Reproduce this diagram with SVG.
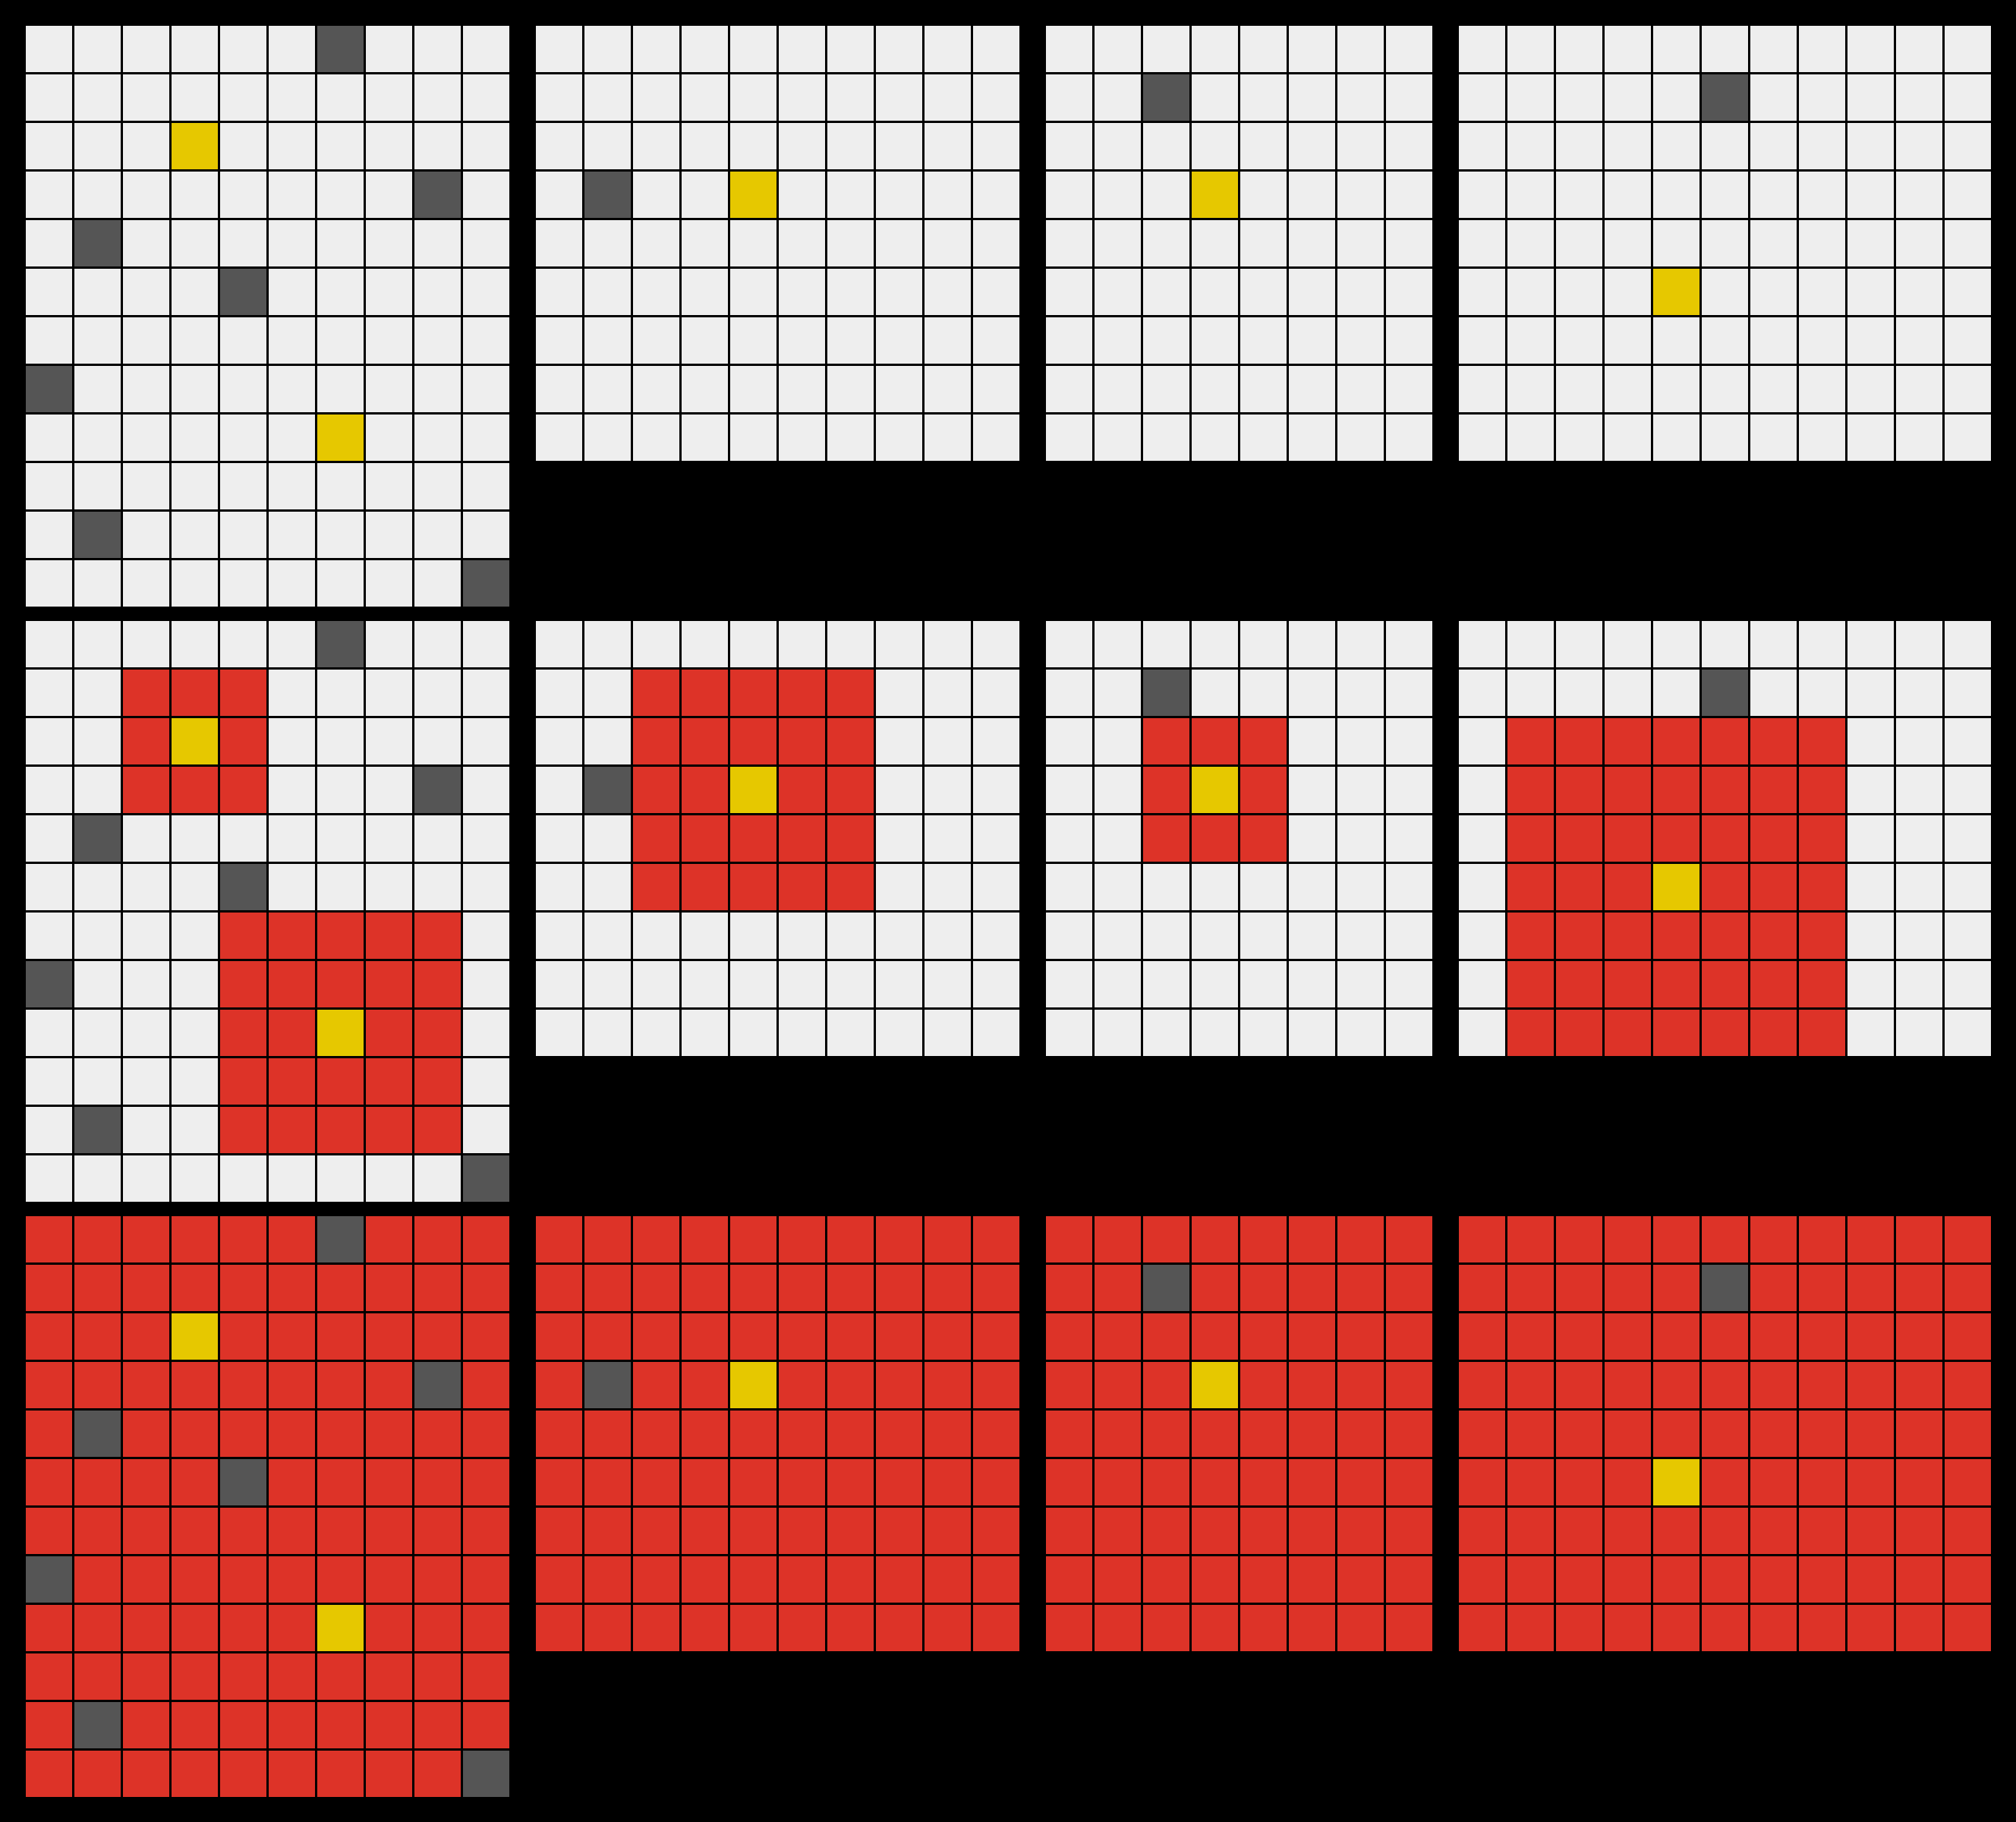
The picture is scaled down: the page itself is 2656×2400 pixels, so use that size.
<svg xmlns="http://www.w3.org/2000/svg" width="2656" height="2400" viewBox="0 0 2656 2400">
<style>
.bg{fill:#EEEEEE}
.rd{fill:#DD3328}
.gy{fill:#555555}
.yl{fill:#E6C800}
.ln{fill:url(#gl)}
</style>
<defs>
<pattern id="gl" width="64" height="64" patternUnits="userSpaceOnUse">
<rect x="61" y="0" width="3" height="64" fill="#000"/>
<rect x="0" y="61" width="64" height="3" fill="#000"/>
</pattern>
</defs>
<rect x="0" y="0" width="2656" height="2400" fill="#000"/>
<g id="connectors"/>

<g id="grid-a1" transform="translate(34,34)">
<rect class="bg" width="637" height="765"/>
<rect class="gy" x="384" y="0" width="61" height="61"/>
<rect class="gy" x="512" y="192" width="61" height="61"/>
<rect class="gy" x="64" y="256" width="61" height="61"/>
<rect class="gy" x="256" y="320" width="61" height="61"/>
<rect class="gy" x="0" y="448" width="61" height="61"/>
<rect class="gy" x="64" y="640" width="61" height="61"/>
<rect class="gy" x="576" y="704" width="61" height="61"/>
<rect class="yl" x="192" y="128" width="61" height="61"/>
<rect class="yl" x="384" y="512" width="61" height="61"/>
<rect class="ln" width="637" height="765"/>
</g>
<g id="grid-b1" transform="translate(706,34)">
<rect class="bg" width="637" height="573"/>
<rect class="gy" x="64" y="192" width="61" height="61"/>
<rect class="yl" x="256" y="192" width="61" height="61"/>
<rect class="ln" width="637" height="573"/>
</g>
<g id="grid-c1" transform="translate(1378,34)">
<rect class="bg" width="509" height="573"/>
<rect class="gy" x="128" y="64" width="61" height="61"/>
<rect class="yl" x="192" y="192" width="61" height="61"/>
<rect class="ln" width="509" height="573"/>
</g>
<g id="grid-d1" transform="translate(1922,34)">
<rect class="bg" width="701" height="573"/>
<rect class="gy" x="320" y="64" width="61" height="61"/>
<rect class="yl" x="256" y="320" width="61" height="61"/>
<rect class="ln" width="701" height="573"/>
</g>

<g id="grid-a2" transform="translate(34,818)">
<rect class="bg" width="637" height="765"/>
<rect class="rd" x="128" y="64" width="189" height="189"/>
<rect class="rd" x="256" y="384" width="317" height="317"/>
<rect class="gy" x="384" y="0" width="61" height="61"/>
<rect class="gy" x="512" y="192" width="61" height="61"/>
<rect class="gy" x="64" y="256" width="61" height="61"/>
<rect class="gy" x="256" y="320" width="61" height="61"/>
<rect class="gy" x="0" y="448" width="61" height="61"/>
<rect class="gy" x="64" y="640" width="61" height="61"/>
<rect class="gy" x="576" y="704" width="61" height="61"/>
<rect class="yl" x="192" y="128" width="61" height="61"/>
<rect class="yl" x="384" y="512" width="61" height="61"/>
<rect class="ln" width="637" height="765"/>
</g>
<g id="grid-b2" transform="translate(706,818)">
<rect class="bg" width="637" height="573"/>
<rect class="rd" x="128" y="64" width="317" height="317"/>
<rect class="gy" x="64" y="192" width="61" height="61"/>
<rect class="yl" x="256" y="192" width="61" height="61"/>
<rect class="ln" width="637" height="573"/>
</g>
<g id="grid-c2" transform="translate(1378,818)">
<rect class="bg" width="509" height="573"/>
<rect class="rd" x="128" y="128" width="189" height="189"/>
<rect class="gy" x="128" y="64" width="61" height="61"/>
<rect class="yl" x="192" y="192" width="61" height="61"/>
<rect class="ln" width="509" height="573"/>
</g>
<g id="grid-d2" transform="translate(1922,818)">
<rect class="bg" width="701" height="573"/>
<rect class="rd" x="64" y="128" width="445" height="445"/>
<rect class="gy" x="320" y="64" width="61" height="61"/>
<rect class="yl" x="256" y="320" width="61" height="61"/>
<rect class="ln" width="701" height="573"/>
</g>

<g id="grid-a3" transform="translate(34,1602)">
<rect class="rd" width="637" height="765"/>
<rect class="gy" x="384" y="0" width="61" height="61"/>
<rect class="gy" x="512" y="192" width="61" height="61"/>
<rect class="gy" x="64" y="256" width="61" height="61"/>
<rect class="gy" x="256" y="320" width="61" height="61"/>
<rect class="gy" x="0" y="448" width="61" height="61"/>
<rect class="gy" x="64" y="640" width="61" height="61"/>
<rect class="gy" x="576" y="704" width="61" height="61"/>
<rect class="yl" x="192" y="128" width="61" height="61"/>
<rect class="yl" x="384" y="512" width="61" height="61"/>
<rect class="ln" width="637" height="765"/>
</g>
<g id="grid-b3" transform="translate(706,1602)">
<rect class="rd" width="637" height="573"/>
<rect class="gy" x="64" y="192" width="61" height="61"/>
<rect class="yl" x="256" y="192" width="61" height="61"/>
<rect class="ln" width="637" height="573"/>
</g>
<g id="grid-c3" transform="translate(1378,1602)">
<rect class="rd" width="509" height="573"/>
<rect class="gy" x="128" y="64" width="61" height="61"/>
<rect class="yl" x="192" y="192" width="61" height="61"/>
<rect class="ln" width="509" height="573"/>
</g>
<g id="grid-d3" transform="translate(1922,1602)">
<rect class="rd" width="701" height="573"/>
<rect class="gy" x="320" y="64" width="61" height="61"/>
<rect class="yl" x="256" y="320" width="61" height="61"/>
<rect class="ln" width="701" height="573"/>
</g>
</svg>
